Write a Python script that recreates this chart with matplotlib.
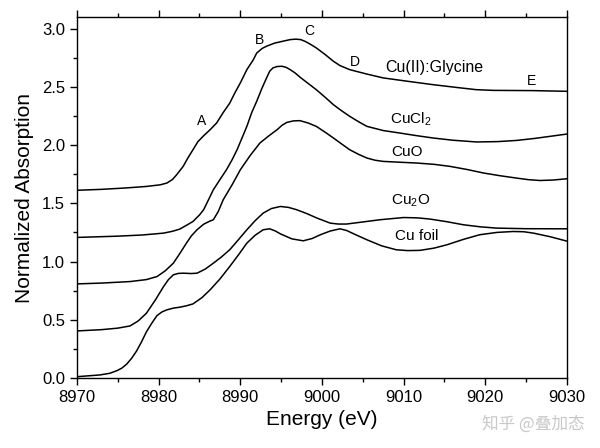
import matplotlib
matplotlib.use("Agg")
import matplotlib.pyplot as plt
from matplotlib.ticker import MultipleLocator

plt.rcParams['font.family'] = ['Liberation Sans', 'DejaVu Sans']

# ---- data ----
gly_E = [8970, 8973, 8976, 8978.5, 8980.2, 8981.0, 8981.7, 8982.2, 8983.0, 8983.6,
         8984.2, 8984.8, 8985.5, 8986.3, 8987.1, 8987.9, 8988.7, 8989.35, 8990.0,
         8990.8, 8991.6, 8992.0, 8992.65, 8993.2, 8994.2, 8995.2, 8996.1, 8996.8,
         8997.4, 8998.0, 8998.65, 8999.3, 9000.4, 9001.4, 9002.2, 9003.4, 9005.5,
         9007.5, 9010.5, 9013.6, 9016.5, 9018.9, 9021, 9025.8, 9030]
gly_v = [1.612, 1.620, 1.632, 1.645, 1.659, 1.674, 1.705, 1.745, 1.817, 1.892,
         1.960, 2.029, 2.080, 2.132, 2.190, 2.279, 2.36, 2.451, 2.534,
         2.648, 2.734, 2.79, 2.829, 2.849, 2.876, 2.892, 2.906, 2.91,
         2.906, 2.889, 2.863, 2.835, 2.777, 2.72, 2.683, 2.648, 2.61,
         2.577, 2.548, 2.519, 2.495, 2.476, 2.470, 2.468, 2.462]

cucl2_E = [8970, 8975, 8978, 8980.6, 8981.7, 8982.6, 8983.5, 8984.2, 8985.0, 8985.5,
           8986.1, 8986.7, 8987.5, 8988.3, 8989.0, 8989.6, 8990.2, 8990.8, 8991.4,
           8992.0, 8992.6, 8993.2, 8993.6, 8994.0, 8994.5, 8995.1, 8995.6, 8996.1,
           8996.7, 8997.3, 8998.3, 8999.3, 9000.4, 9001.4, 9002.4, 9003.4, 9004.5,
           9005.5, 9007.5, 9009.5, 9011.5, 9013.6, 9016, 9018.9, 9021.5, 9023.8,
           9026, 9027.9, 9030]
cucl2_v = [1.207, 1.218, 1.228, 1.244, 1.260, 1.279, 1.315, 1.344, 1.40, 1.444,
           1.530, 1.617, 1.703, 1.788, 1.875, 1.960, 2.06, 2.161, 2.28,
           2.375, 2.48, 2.575, 2.635, 2.663, 2.675, 2.677, 2.668, 2.648,
           2.62, 2.584, 2.53, 2.476, 2.41, 2.347, 2.295, 2.247, 2.20,
           2.161, 2.125, 2.104, 2.082, 2.061, 2.042, 2.027, 2.030, 2.040,
           2.057, 2.075, 2.095]

cuo_E = [8970, 8973, 8976.5, 8978.5, 8979.8, 8980.8, 8981.8, 8982.6, 8983.4, 8984.0,
         8984.7, 8985.5, 8986.2, 8986.7, 8987.3, 8987.9, 8989.0, 8990.0, 8991.2,
         8992.4, 8993.5, 8994.5, 8995.1, 8995.7, 8996.5, 8997.3, 8998.3, 8999.3,
         9000.4, 9001.4, 9002.4, 9003.4, 9004.5, 9005.5, 9006.5, 9007.5, 9009.5,
         9011.6, 9013.7, 9015.7, 9017.8, 9019.8, 9021.8, 9023.8, 9025.3, 9026.7,
         9028.3, 9030]
cuo_v = [0.808, 0.815, 0.828, 0.845, 0.871, 0.92, 0.986, 1.07, 1.158, 1.22,
         1.273, 1.32, 1.345, 1.359, 1.43, 1.530, 1.66, 1.788, 1.91,
         2.018, 2.08, 2.132, 2.17, 2.195, 2.208, 2.210, 2.19, 2.161,
         2.11, 2.061, 2.01, 1.960, 1.92, 1.889, 1.870, 1.860, 1.853,
         1.846, 1.835, 1.817, 1.790, 1.760, 1.737, 1.717, 1.703, 1.696,
         1.700, 1.711]

cu2o_E = [8970, 8973, 8975, 8976.5, 8977.5, 8978.5, 8979.6, 8980.6, 8981.2, 8981.8,
          8982.4, 8983.0, 8984.0, 8984.7, 8985.7, 8986.7, 8987.7, 8988.7, 8989.8,
          8990.8, 8991.8, 8992.8, 8993.8, 8994.9, 8995.9, 8996.9, 8998.2, 8999.4,
          9001.0, 9002.0, 9003.0, 9005.0, 9007.1, 9010.0, 9011.7, 9013.2, 9015.3,
          9017.3, 9019.4, 9021.4, 9025, 9030]
cu2o_v = [0.404, 0.415, 0.428, 0.447, 0.49, 0.556, 0.67, 0.785, 0.845, 0.886,
          0.898, 0.900, 0.897, 0.900, 0.935, 0.986, 1.04, 1.101, 1.19,
          1.273, 1.35, 1.416, 1.455, 1.473, 1.465, 1.445, 1.41, 1.373,
          1.330, 1.322, 1.322, 1.340, 1.359, 1.378, 1.375, 1.365, 1.342,
          1.316, 1.298, 1.287, 1.282, 1.281]

cufoil_E = [8970, 8972.8, 8974.0, 8974.9, 8975.5, 8976.1, 8976.7, 8977.3, 8977.9, 8978.5,
            8979.2, 8979.8, 8980.4, 8981.0, 8981.8, 8982.6, 8983.4, 8984.2, 8985.3,
            8986.3, 8987.5, 8988.7, 8989.8, 8990.8, 8991.8, 8992.8, 8993.6, 8994.3,
            8994.9, 8996.3, 8997.7, 8998.8, 8999.8, 9001.0, 9002.2, 9003.0, 9004.2,
            9005.5, 9007.3, 9009.1, 9010.5, 9012.0, 9013.7, 9015.3, 9017.3, 9019.3,
            9021.4, 9023.4, 9024.7, 9025.9, 9028, 9030]
cufoil_v = [0.011, 0.026, 0.040, 0.063, 0.085, 0.120, 0.17, 0.232, 0.31, 0.396,
            0.475, 0.536, 0.567, 0.585, 0.600, 0.608, 0.620, 0.636, 0.69,
            0.757, 0.85, 0.957, 1.06, 1.158, 1.225, 1.273, 1.281, 1.262,
            1.238, 1.195, 1.178, 1.198, 1.230, 1.262, 1.281, 1.267, 1.228,
            1.187, 1.135, 1.101, 1.094, 1.096, 1.115, 1.144, 1.190, 1.230,
            1.250, 1.258, 1.256, 1.244, 1.212, 1.175]

x_ticks = [8970, 8980, 8990, 9000, 9010, 9020, 9030]
y_ticks = [0.0, 0.5, 1.0, 1.5, 2.0, 2.5, 3.0]

# ---- figure ----
fig = plt.figure(figsize=(6.0, 4.48), dpi=100)
ax = fig.add_axes([0.1283, 0.1563, 0.8167, 0.8057])

for E, v in [(gly_E, gly_v), (cucl2_E, cucl2_v), (cuo_E, cuo_v),
             (cu2o_E, cu2o_v), (cufoil_E, cufoil_v)]:
    ax.plot(E, v, color='black', lw=1.1, solid_joinstyle='round',
            solid_capstyle='round')

ax.set_xlim(8970, 9030)
ax.set_ylim(0, 3.1)
ax.set_xticks(x_ticks)
ax.set_yticks(y_ticks)
ax.set_yticklabels([f"{t:.1f}" for t in y_ticks])
ax.xaxis.set_minor_locator(MultipleLocator(5))
ax.yaxis.set_minor_locator(MultipleLocator(0.25))
ax.tick_params(which='both', direction='out', top=True, right=False,
               labelsize=12, width=1.0, color='black')
ax.tick_params(which='major', length=5)
ax.tick_params(which='minor', length=3)
for s in ax.spines.values():
    s.set_linewidth(1.0)

ax.set_xlabel('Energy (eV)', fontsize=15, labelpad=4)
ax.set_ylabel('Normalized Absorption', fontsize=15, labelpad=6)

# annotations
ax.text(8985.3, 2.21, 'A', fontsize=10, ha='center', va='center')
ax.text(8992.3, 2.90, 'B', fontsize=10, ha='center', va='center')
ax.text(8998.5, 2.98, 'C', fontsize=10, ha='center', va='center')
ax.text(9004.0, 2.71, 'D', fontsize=10, ha='center', va='center')
ax.text(9025.6, 2.55, 'E', fontsize=10, ha='center', va='center')
ax.text(9007.7, 2.665, 'Cu(II):Glycine', fontsize=11.5, ha='left', va='center')
ax.text(9008.3, 2.22, r'CuCl$_\mathregular{2}$', fontsize=11, ha='left', va='center')
ax.text(9008.5, 1.94, 'CuO', fontsize=11, ha='left', va='center')
ax.text(9008.5, 1.52, r'Cu$_\mathregular{2}$O', fontsize=11, ha='left', va='center')
ax.text(9008.9, 1.22, 'Cu foil', fontsize=11, ha='left', va='center')

fig.text(0.975, 0.053, '知乎 @叠加态', fontsize=12, color='#c8c8c8', ha='right',
         va='center', family=['Noto Sans CJK SC', 'DejaVu Sans'])

fig.savefig('out.png', dpi=100)
